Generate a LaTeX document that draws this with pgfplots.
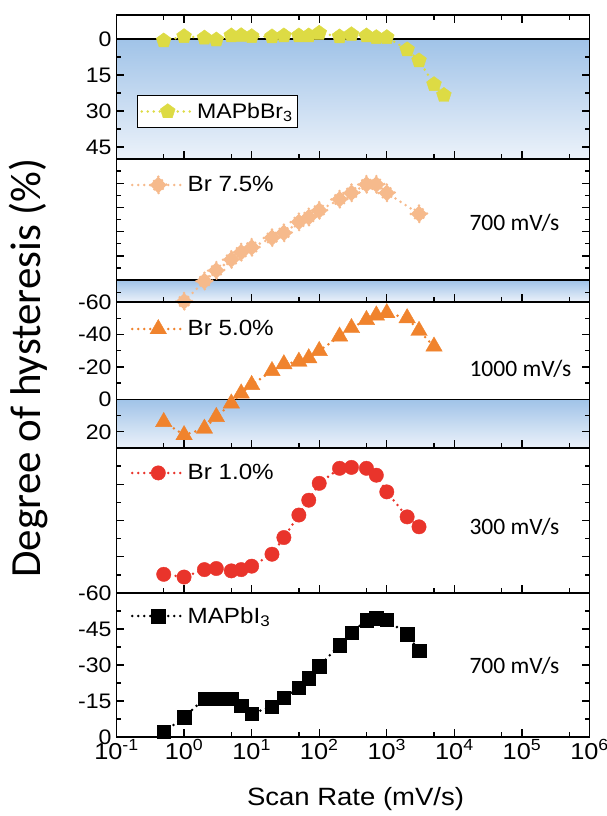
\documentclass[border=0pt]{standalone}
\usepackage{fontspec}
\setmainfont[FakeStretch=1.1]{Liberation Sans}
\newfontfamily\calfont{Carlito}
\usepackage{pgfplots}
\pgfplotsset{compat=1.18}
\usetikzlibrary{plotmarks}

\definecolor{cY}{RGB}{221,219,68}
\definecolor{cP}{RGB}{246,186,140}
\definecolor{cO}{RGB}{240,131,45}
\definecolor{cR}{RGB}{233,52,43}
\definecolor{bTop}{RGB}{160,195,232}
\definecolor{bBot}{RGB}{236,242,250}

\pgfplotsset{
  every axis/.append style={
    width=473pt, scale only axis, anchor=south west,
    y dir=reverse,
    axis on top,
    axis line style={line width=1.6pt},
    major tick style={line width=1.3pt, black},
    minor tick style={line width=1.3pt, black},
    major tick length=8pt, minor tick length=5pt,
    tick align=inside,
    xtick={0.1,1,10,100,1000,10000,100000,1000000},
    minor xtick={0.5,5,50,500,5000,50000,500000},
    xticklabels={},
    xtick pos=left,
    ytick pos=both,
    /pgf/number format/assume math mode=true,
    yticklabel style={font=\fontsize{21}{23}\selectfont, xshift=-1.5pt},
    xticklabel style={font=\fontsize{23}{25}\selectfont, yshift=1pt},
    legend style={draw=none, fill=none, font=\fontsize{22}{24}\selectfont,
      inner sep=0pt, anchor=west},
    legend cell align=left,
  },
  legend image code/.code={\draw[mark repeat=2,mark phase=2,#1] plot coordinates {(0pt,0pt) (26pt,0pt) (52pt,0pt)};},
}
\tikzset{
  myser/.style={color=#1, line width=2.8pt, dash pattern=on 0pt off 6pt, line cap=round,
    mark options={solid, fill=#1, draw=#1, line width=0.4pt}},
}
\newcommand\ann[1]{\node[anchor=west, font=\calfont\fontsize{23.5}{26}\selectfont] #1}

\begin{document}
\begin{tikzpicture}
\useasboundingbox (0pt,0pt) rectangle (606pt,816pt);

% Panel 1: MAPbBr3
\begin{semilogxaxis}[at={(116.5pt,657pt)}, height=144pt, xmin=0.1, xmax=1e6,
  ymin=-10, ymax=50, xtick pos=both,
  ytick={0,15,30,45}, minor ytick={7.5,22.5,37.5},
  legend style={at={(0.043,0.33)}, draw=black, line width=1pt, fill=white, inner xsep=3pt, inner ysep=6pt,
    font=\fontsize{21}{23}\selectfont}]
\fill[top color=bTop, bottom color=bBot] (axis cs:0.1,0) rectangle (axis cs:1e6,50);
\draw[line width=1.6pt] (axis cs:0.1,0) -- (axis cs:1e6,0);
\addplot[myser=cY, mark=pentagon*, mark size=7.8pt] coordinates {
(0.5,0.7) (1,-1.1) (2,-0.5) (3,0.3) (5,-1.4) (7,-1.5) (10,-1.1) (20,-1.0) (30,-1.4)
(50,-1.4) (70,-1.4) (100,-2.5) (200,-1.0) (300,-1.9) (500,-1.4) (700,-0.7) (1000,-0.7)
(2000,4.4) (3000,9.0) (5000,18.9) (7000,23.4)};
\addlegendentry{MAPbBr\textsubscript{3}}
\end{semilogxaxis}

% Panel 2: Br 7.5%
\begin{semilogxaxis}[at={(116.5pt,514pt)}, height=143pt, xmin=0.1, xmax=1e6,
  ymin=-100, ymax=18,
  ytick={-80,-60,-40,-20,0}, minor ytick={-90,-70,-50,-30,-10,10}, yticklabels={},
  legend style={at={(0.03,0.818)}}]
\fill[top color=bTop, bottom color=bBot] (axis cs:0.1,0) rectangle (axis cs:1e6,18);
\draw[line width=1.6pt] (axis cs:0.1,0) -- (axis cs:1e6,0);
\addplot[myser=cP, mark=square*, mark size=5.9pt, mark options={rotate=45}] coordinates {
(1,17.5) (2,0.8) (3,-8) (5,-17) (7,-23) (10,-27) (20,-35) (30,-39) (50,-48) (70,-52)
(100,-57.5) (200,-66.7) (300,-72) (500,-79) (700,-79) (1000,-72) (3000,-54.7)};
\addlegendentry{Br 7.5\%}
\ann{at (axis description cs:0.739,0.551) {700 mV/s};}
\end{semilogxaxis}

% Panel 3: Br 5.0%
\begin{semilogxaxis}[at={(116.5pt,368pt)}, height=146pt, xmin=0.1, xmax=1e6,
  ymin=-60, ymax=30,
  ytick={-60,-40,-20,0,20}, minor ytick={-50,-30,-10,10},
  legend style={at={(0.03,0.815)}}]
\fill[top color=bTop, bottom color=bBot] (axis cs:0.1,0) rectangle (axis cs:1e6,30);
\draw[line width=1.6pt] (axis cs:0.1,0) -- (axis cs:1e6,0);
\addplot[myser=cO, mark=triangle*, mark size=9.5pt] coordinates {
(0.5,13.9) (1,22) (2,18) (3,10.8) (5,2.5) (7,-3.7) (10,-8.9) (20,-17.5) (30,-21.7)
(50,-23.3) (70,-25.4) (100,-29.9) (200,-38.8) (300,-44) (500,-49) (700,-51.8)
(1000,-53.2) (2000,-50.1) (3000,-42.3) (5000,-32.6)};
\addlegendentry{Br 5.0\%}
\ann{at (axis description cs:0.739,0.541) {1000 mV/s};}
\end{semilogxaxis}

% Panel 4: Br 1.0%
\begin{semilogxaxis}[at={(116.5pt,223pt)}, height=145pt, xmin=0.1, xmax=1e6,
  ymin=-80, ymax=0,
  ytick={-60,-40,-20}, minor ytick={-70,-50,-30,-10}, yticklabels={},
  legend style={at={(0.03,0.828)}}]
\addplot[myser=cR, mark=*, mark size=7.2pt] coordinates {
(0.5,-10.3) (1,-8.8) (2,-12.9) (3,-13.5) (5,-12.2) (7,-12.9) (10,-14.8) (20,-21.4)
(30,-30.6) (50,-43) (70,-51.2) (100,-60.5) (200,-68.8) (300,-69.3) (500,-68.8)
(700,-65) (1000,-55.8) (2000,-42) (3000,-36.5)};
\addlegendentry{Br 1.0\%}
\ann{at (axis description cs:0.739,0.459) {300 mV/s};}
\end{semilogxaxis}

% Panel 5: MAPbI3
\begin{semilogxaxis}[at={(116.5pt,79pt)}, height=144pt, xmin=0.1, xmax=1e6,
  ymin=-60, ymax=0,
  ytick={-60,-45,-30,-15,0}, minor ytick={-52.5,-37.5,-22.5,-7.5},
  xticklabels={10\textsuperscript{-1},10\textsuperscript{0},10\textsuperscript{1},10\textsuperscript{2},10\textsuperscript{3},10\textsuperscript{4},10\textsuperscript{5},10\textsuperscript{6}},
  legend style={at={(0.03,0.84)}}]
\addplot[myser=black, mark=square*, mark size=6.7pt] coordinates {
(0.5,-2.1) (1,-8.2) (2,-16) (3,-16) (5,-16) (7,-13.1) (10,-9.8) (20,-12.6) (30,-16.4)
(50,-20.5) (70,-24.5) (100,-29.5) (200,-38.3) (300,-43.5) (500,-48.7) (700,-49.5)
(1000,-48.8) (2000,-42.8) (3000,-35.9)};
\addlegendentry{MAPbI\textsubscript{3}}
\ann{at (axis description cs:0.739,0.493) {700 mV/s};}
\end{semilogxaxis}

\node[rotate=90, anchor=base, font=\calfont\fontsize{43}{46}\selectfont] at (40pt,448pt) {Degree of hysteresis (\%)};
\node[anchor=base, font=\fontsize{25}{28}\selectfont] at (355.5pt,10pt) {Scan Rate (mV/s)};
\end{tikzpicture}
\end{document}
